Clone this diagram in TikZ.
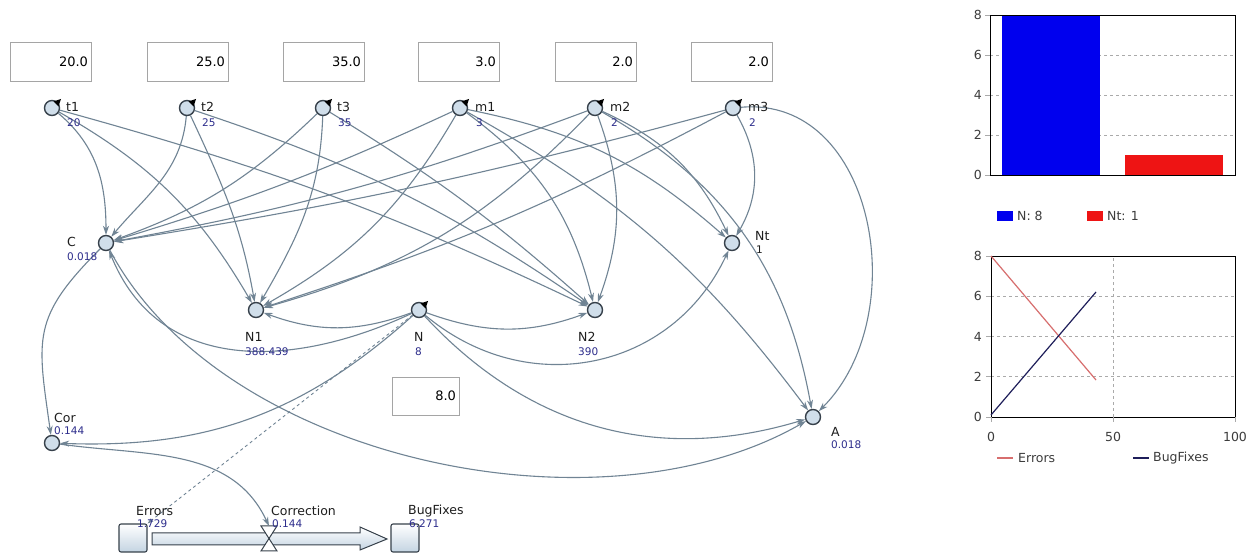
\documentclass[tikz,border=0pt]{standalone}
\usepackage{fontspec}
\setmainfont{DejaVu Sans}
\usetikzlibrary{arrows.meta,calc}
\definecolor{connc}{RGB}{112,132,148}
\definecolor{nodefill}{RGB}{208,222,234}
\definecolor{nodeedge}{RGB}{55,65,75}
\definecolor{namec}{RGB}{30,30,30}
\definecolor{valc}{RGB}{45,45,140}
\definecolor{boxc}{RGB}{165,165,165}
\definecolor{gridc}{RGB}{170,170,170}
\definecolor{barblue}{RGB}{0,0,238}
\definecolor{barred}{RGB}{238,20,20}
\definecolor{errc}{RGB}{215,110,110}
\definecolor{bugc}{RGB}{30,30,90}
\definecolor{pipelo}{RGB}{196,212,226}
\newcommand\paramtip[1]{\fill[black] ($(#1)+(9,9)$) -- ($(#1)+(1.5,6.5)$) -- ($(#1)+(6.5,1.5)$) -- cycle;}
\begin{document}
\begin{tikzpicture}[x=1pt,y=1pt,
  aux/.style={circle,draw=nodeedge,fill=nodefill,line width=1.4pt,minimum size=15pt,inner sep=0pt},
  conn/.style={draw=connc,line width=1.1pt,-{Stealth[length=9pt,width=6pt]}},
  link/.style={draw=connc,line width=0.9pt,dashed,-{Stealth[length=6pt,width=4pt]}},
  nm/.style={anchor=west,inner sep=0pt,font=\fontsize{12.5}{14}\selectfont,text=namec},
  vl/.style={anchor=west,inner sep=0pt,font=\fontsize{10.5}{12}\selectfont,text=valc},
  inbox/.style={draw=boxc,line width=0.8pt,fill=white,minimum height=39pt,inner sep=3pt,
    text width=75pt,align=right,font=\fontsize{13}{15}\selectfont},
  stock/.style={draw=nodeedge,line width=1.1pt,rounded corners=2pt,minimum size=28pt,inner sep=0pt,
    top color=white,bottom color=pipelo},
  axlab/.style={inner sep=0pt,font=\fontsize{12.5}{14}\selectfont,text={rgb,255:red,60;green,60;blue,60}},
  chgrid/.style={draw=gridc,dashed,line width=0.7pt},
]
\useasboundingbox[fill=white] (0,0) rectangle (1256,554);

% ---------- input fields ----------
\node[inbox] (in1) at (50.5,492.5) {20.0};
\node[inbox] (in2) at (187.5,492.5) {25.0};
\node[inbox] (in3) at (323.5,492.5) {35.0};
\node[inbox] (in4) at (458.5,492.5) {3.0};
\node[inbox] (in5) at (595.5,492.5) {2.0};
\node[inbox] (in6) at (731.5,492.5) {2.0};
\node[inbox,text width=61pt,minimum height=38pt] (in7) at (425.5,158) {8.0};

% ---------- parameters and variables ----------
\node[aux] (t1) at (52,446) {};
\node[aux] (t2) at (187,446) {};
\node[aux] (t3) at (323,446) {};
\node[aux] (m1) at (460,446) {};
\node[aux] (m2) at (595,446) {};
\node[aux] (m3) at (733,446) {};
\node[aux] (C) at (106,311) {};
\node[aux] (N1) at (256,244) {};
\node[aux] (N) at (419,244) {};
\node[aux] (N2) at (595,244) {};
\node[aux] (Nt) at (732,311) {};
\node[aux] (A) at (813,137) {};
\node[aux] (Cor) at (52,111) {};

% ---------- stocks and flow ----------
\node[stock] (errors) at (133,16) {};
\node[stock] (bugfixes) at (405,16) {};
\draw[draw=nodeedge,line width=1pt,top color=white,bottom color=pipelo]
  (152,21) -- (360,21) -- (360,27) -- (387,15) -- (360,4) -- (360,9) -- (152,9) -- cycle;
\coordinate (valve) at (269,16);
\coordinate (valvetop) at (269,28);
\draw[draw=nodeedge,line width=1pt,fill=white]
  (261,28) -- (277,28) -- (261,3) -- (277,3) -- cycle;

% ---------- connectors ----------
\draw[conn] (t1) to[out=-40,in=90] (C);
\draw[conn] (t1) to[bend left=15] (N1);
\draw[conn] (t1) to[bend left=5] (N2);
\draw[conn] (t2) to[out=-95,in=50] (C);
\draw[conn] (t2) to[out=-65,in=100] (N1);
\draw[conn] (t2) to[bend left=8] (N2);
\draw[conn] (t3) to[bend left=12] (C);
\draw[conn] (t3) to[out=-92,in=60] (N1);
\draw[conn] (t3) to[bend left=5] (N2);
\draw[conn] (m1) to[bend left=4] (C);
\draw[conn] (m1) to[bend left=15] (N1);
\draw[conn] (m1) to[bend left=20] (N2);
\draw[conn] (m1) to[bend left=15] (Nt);
\draw[conn] (m1) to[bend left=12] (A);
\draw[conn] (m2) to[bend left=5] (C);
\draw[conn] (m2) to[bend left=15] (N1);
\draw[conn] (m2) to[bend left=20] (N2);
\draw[conn] (m2) to[bend left=20] (Nt);
\draw[conn] (m2) to[bend left=25] (A);
\draw[conn] (m3) to[bend left=3] (C);
\draw[conn] (m3) to[bend left=5] (N1);
\draw[conn] (m3) to[bend left=30] (Nt);
\draw[conn] (m3) to[out=5,in=45,looseness=1.1] (A);
\draw[conn] (N) to[bend left=20] (N1);
\draw[conn] (N) to[bend right=20] (N2);
\draw[conn] (N) to[out=-40,in=-115,looseness=1.1] (Nt);
\draw[conn] (N) to[bend right=32] (A);
\draw[conn] (N) to[out=-155,in=-68,looseness=1.1] (C);
\draw[conn] (N) to[bend left=22] (Cor);
\draw[link] (N) -- (errors.north east);
\draw[conn] (C) to[out=-135,in=98,looseness=1.3] (Cor);
\draw[conn] (C) to[out=-62,in=-150,looseness=0.85] (A);
\draw[conn] (Cor) to[out=-8,in=115] (valvetop);

% parameter markers
\paramtip{t1}\paramtip{t2}\paramtip{t3}\paramtip{m1}\paramtip{m2}\paramtip{m3}\paramtip{N}

% ---------- labels ----------
\node[nm] (lt1) at (66,447) {t1};   \node[vl] (vt1) at (67,431) {20};
\node[nm] (lt2) at (201,447) {t2};  \node[vl] (vt2) at (202,431) {25};
\node[nm] (lt3) at (337,447) {t3};  \node[vl] (vt3) at (338,431) {35};
\node[nm] (lm1) at (475,447) {m1};  \node[vl] (vm1) at (476,431) {3};
\node[nm] (lm2) at (610,447) {m2};  \node[vl] (vm2) at (611,431) {2};
\node[nm] (lm3) at (748,447) {m3};  \node[vl] (vm3) at (749,431) {2};
\node[nm] (lC) at (67,312) {C};     \node[vl] (vC) at (67,297) {0.018};
\node[nm] (lN1) at (245,217) {N1};  \node[vl] (vN1) at (245,202) {388.439};
\node[nm] (lN) at (414,217) {N};    \node[vl] (vN) at (415,202) {8};
\node[nm] (lN2) at (578,217) {N2};  \node[vl] (vN2) at (578,202) {390};
\node[nm] (lNt) at (755,318) {Nt};  \node[vl,text=namec] (vNt) at (756,304) {1};
\node[nm] (lA) at (831,122) {A};    \node[vl] (vA) at (831,109) {0.018};
\node[nm] (lCor) at (54,136) {Cor}; \node[vl] (vCor) at (54,123) {0.144};
\node[nm] (lerr) at (136,43) {Errors};      \node[vl] (verr) at (137,30) {1.729};
\node[nm] (lcor) at (271,43) {Correction};  \node[vl] (vcor) at (272,30) {0.144};
\node[nm] (lbug) at (408,43) {BugFixes};    \node[vl] (vbug) at (409,30) {6.271};

% ---------- bar chart ----------
\foreach \k in {2,4,6} \draw[chgrid] (990,{379+20*\k}) -- (1235,{379+20*\k});
\fill[barblue] (1002,379) rectangle (1100,539);
\fill[barred] (1125,379) rectangle (1223,399);
\draw[black,line width=0.9pt] (990,379) rectangle (1235,539);
\foreach \k in {0,2,4,6,8} {
  \draw[gridc,line width=0.8pt] (985,{379+20*\k}) -- (990,{379+20*\k});
  \node[axlab,anchor=east] at (982,{379+20*\k}) {\k};
}
\fill[barblue] (997,333) rectangle (1013,343);
\node[axlab,anchor=west] (legN) at (1017,338) {N: 8};
\fill[barred] (1087,333) rectangle (1103,343);
\node[axlab,anchor=west] (legNt) at (1107,338) {Nt: 1};

% ---------- time plot ----------
\foreach \k in {2,4,6} \draw[chgrid] (991,{137+20.125*\k}) -- (1235,{137+20.125*\k});
\draw[chgrid] (1113,137) -- (1113,298);
\draw[black,line width=0.9pt] (991,137) rectangle (1235,298);
\foreach \k in {0,2,4,6,8} {
  \draw[gridc,line width=0.8pt] (986,{137+20.125*\k}) -- (991,{137+20.125*\k});
  \node[axlab,anchor=east] at (982,{137+20.125*\k}) {\k};
}
\foreach \t/\px in {0/991,50/1113,100/1235} {
  \draw[gridc,line width=0.8pt] (\px,137) -- (\px,132);
  \node[axlab] at (\px,117) {\t};
}
\draw[errc,line width=1.2pt] (991,298) -- (1096,174);
\draw[bugc,line width=1.2pt] (991,139) -- (1096,262);
\draw[errc,line width=1.2pt] (997,96) -- (1013,96);
\node[axlab,anchor=west] (legE) at (1018,96) {Errors};
\draw[bugc,line width=1.2pt] (1133,96) -- (1149,96);
\node[axlab,anchor=west] (legB) at (1153,96) {BugFixes};
\end{tikzpicture}
\end{document}
